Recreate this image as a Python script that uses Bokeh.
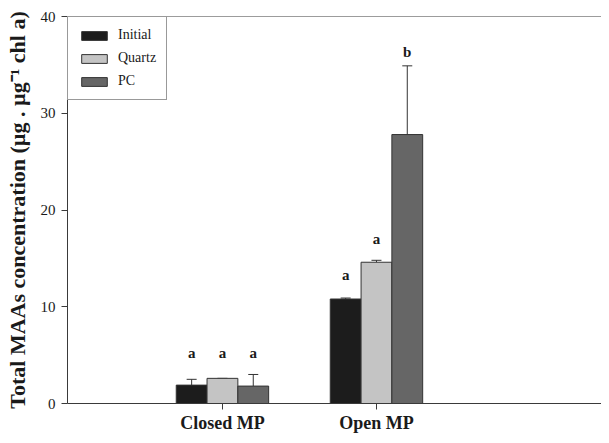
from bokeh.plotting import figure
from bokeh.models import (ColumnDataSource, Whisker, TeeHead, Legend, LegendItem,
                          FixedTicker, Span, Range1d)
from bokeh.core.properties import value
from bokeh.embed import file_html
from bokeh.resources import INLINE

groups = ["Closed MP", "Open MP"]
group_pos = [1, 2]
series = ["Initial", "Quartz", "PC"]
initial = [1.9, 10.8]
quartz = [2.6, 14.6]
pc = [1.8, 27.8]
initial_err = [0.6, 0.1]
quartz_err = [0.0, 0.2]
pc_err = [1.2, 7.1]
letters_initial = ["a", "a"]
letters_quartz = ["a", "a"]
letters_pc = ["a", "b"]
letter_y_initial = [5.2, 13.3]
letter_y_quartz = [5.2, 17.0]
letter_y_pc = [5.2, 36.3]
y_ticks = [0, 10, 20, 30, 40]

colors = ["#1c1c1c", "#c4c4c4", "#666666"]
offsets = [-0.2, 0.0, 0.2]
bar_w = 0.2
FONT = "Liberation Serif"
AXIS_COL = "#3a3a3a"
TXT = "#1a1a1a"

p = figure(width=601, height=435, x_range=Range1d(-0.006, 3.461), y_range=Range1d(0, 40),
           output_backend="svg", toolbar_location=None,
           min_border_left=67, min_border_right=0, min_border_top=16, min_border_bottom=30)
p.xgrid.visible = False
p.ygrid.visible = False
p.outline_line_color = None
p.background_fill_color = "white"
p.border_fill_color = "white"

vals = [initial, quartz, pc]
errs = [initial_err, quartz_err, pc_err]
letters = [letters_initial, letters_quartz, letters_pc]
letter_ys = [letter_y_initial, letter_y_quartz, letter_y_pc]

items = []
for i, name in enumerate(series):
    xs = [g + offsets[i] for g in group_pos]
    src = ColumnDataSource(dict(x=xs, top=vals[i],
                                upper=[v + e for v, e in zip(vals[i], errs[i])],
                                lab=letters[i], ly=letter_ys[i]))
    r = p.vbar(x="x", top="top", width=bar_w, source=src, fill_color=colors[i],
               line_color="#333333", line_width=1)
    items.append(LegendItem(label=name, renderers=[r]))
    w = Whisker(base="x", lower="top", upper="upper", source=src, dimension="height",
                line_color="#333333", line_width=1,
                upper_head=TeeHead(size=10, line_color="#333333", line_width=1),
                lower_head=None)
    p.add_layout(w)
    p.text(x="x", y="ly", text="lab", source=src, text_align="center",
           text_baseline="middle", text_font=value(FONT), text_font_size="15px",
           text_font_style="bold", text_color=TXT)

legend = Legend(items=items, location="top_left", margin=0, padding=10, spacing=7,
                glyph_width=32, glyph_height=11, label_height=14, label_standoff=8,
                label_text_font=FONT, label_text_font_size="14px",
                label_text_color=TXT,
                border_line_color="#333333", border_line_width=1,
                background_fill_alpha=1.0)
p.add_layout(legend)

p.add_layout(Span(location=40, dimension="width", line_color=AXIS_COL, line_width=1))

# x axis
p.xaxis.ticker = FixedTicker(ticks=group_pos)
p.xaxis.major_label_overrides = {g: lab for g, lab in zip(group_pos, groups)}
p.xaxis.minor_tick_line_color = None
p.xaxis.major_tick_in = 0
p.xaxis.major_tick_out = 6
p.xaxis.major_label_standoff = 3
p.xaxis.major_label_text_font = FONT
p.xaxis.major_label_text_font_style = "bold"
p.xaxis.major_label_text_font_size = "18px"
p.xaxis.major_label_text_color = TXT
p.xaxis.axis_line_color = AXIS_COL
p.xaxis.major_tick_line_color = AXIS_COL

# y axis
p.yaxis.ticker = FixedTicker(ticks=y_ticks)
p.yaxis.minor_tick_line_color = None
p.yaxis.major_tick_in = 0
p.yaxis.major_tick_out = 6
p.yaxis.major_label_standoff = 6
p.yaxis.major_label_text_font = FONT
p.yaxis.major_label_text_font_size = "15px"
p.yaxis.major_label_text_color = TXT
p.yaxis.axis_line_color = AXIS_COL
p.yaxis.major_tick_line_color = AXIS_COL
p.yaxis.axis_label = "Total MAAs concentration (µg . µg⁻¹ chl a)"
p.yaxis.axis_label_text_font = FONT
p.yaxis.axis_label_text_font_style = "bold"
p.yaxis.axis_label_text_font_size = "22px"
p.yaxis.axis_label_text_color = TXT
p.yaxis.axis_label_standoff = 8

open("out.html", "w").write(file_html(p, INLINE))
